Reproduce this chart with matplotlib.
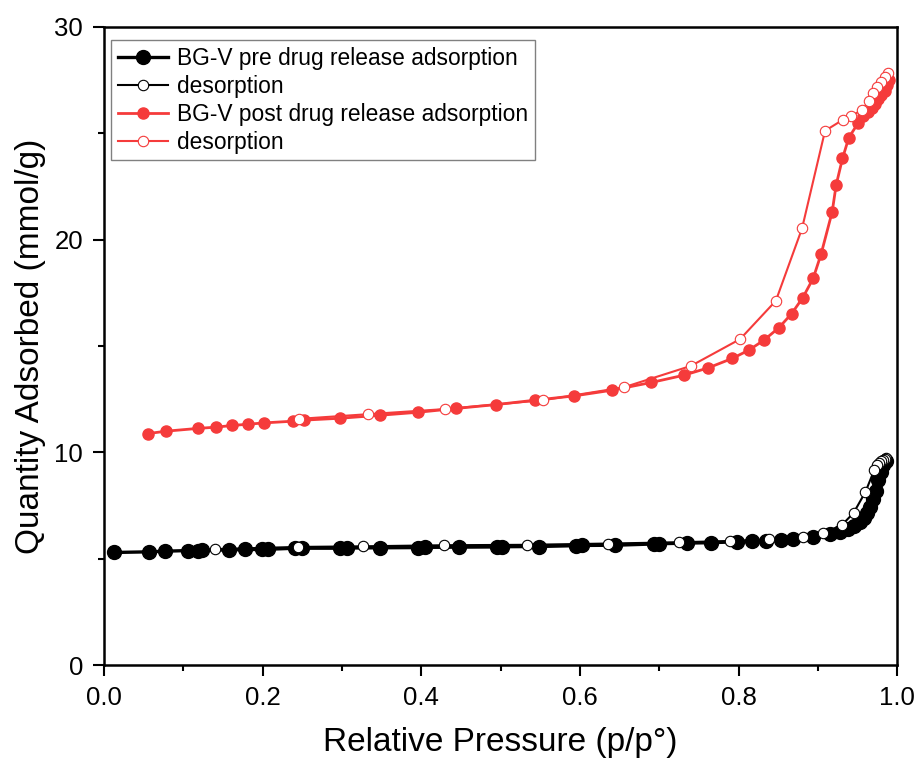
import matplotlib
matplotlib.use("Agg")
import matplotlib.pyplot as plt
from matplotlib.ticker import MultipleLocator

plt.rcParams['font.family'] = ['Liberation Sans', 'DejaVu Sans']

# BG-V pre drug release, adsorption branch
pre_ads_x = [0.013, 0.057, 0.077, 0.106, 0.119, 0.124, 0.158, 0.178, 0.199, 0.207,
             0.241, 0.250, 0.298, 0.306, 0.348, 0.396, 0.405, 0.447, 0.495, 0.502,
             0.548, 0.595, 0.602, 0.644, 0.694, 0.700, 0.735, 0.765, 0.798, 0.817,
             0.835, 0.854, 0.869, 0.894, 0.915, 0.928, 0.938, 0.946, 0.953, 0.958,
             0.962, 0.966, 0.970, 0.973, 0.976, 0.979, 0.982, 0.986]
pre_ads_y = [5.30, 5.33, 5.36, 5.39, 5.39, 5.40, 5.42, 5.44, 5.44, 5.45,
             5.50, 5.50, 5.50, 5.51, 5.52, 5.53, 5.54, 5.55, 5.56, 5.57,
             5.58, 5.62, 5.63, 5.64, 5.70, 5.71, 5.74, 5.76, 5.80, 5.83,
             5.86, 5.90, 5.94, 6.03, 6.15, 6.28, 6.40, 6.55, 6.72, 6.92,
             7.15, 7.45, 7.80, 8.20, 8.70, 9.10, 9.40, 9.62]

# BG-V pre drug release, desorption branch
pre_des_x = [0.986, 0.984, 0.982, 0.980, 0.977, 0.974, 0.971, 0.960, 0.945, 0.930,
             0.907, 0.881, 0.838, 0.789, 0.725, 0.636, 0.533, 0.429, 0.327, 0.245,
             0.140]
pre_des_y = [9.74, 9.70, 9.65, 9.60, 9.52, 9.40, 9.17, 8.15, 7.16, 6.58,
             6.22, 6.03, 5.91, 5.84, 5.78, 5.72, 5.66, 5.64, 5.59, 5.56,
             5.46]

# BG-V post drug release, adsorption branch
post_ads_x = [0.056, 0.078, 0.118, 0.141, 0.162, 0.182, 0.202, 0.238, 0.252, 0.298,
              0.348, 0.396, 0.444, 0.494, 0.544, 0.593, 0.641, 0.690, 0.731, 0.762,
              0.792, 0.813, 0.832, 0.851, 0.867, 0.881, 0.894, 0.904, 0.918, 0.923,
              0.931, 0.939, 0.951, 0.957, 0.963, 0.968, 0.972, 0.976, 0.980, 0.984,
              0.987, 0.990]
post_ads_y = [10.89, 11.00, 11.13, 11.19, 11.27, 11.33, 11.39, 11.47, 11.52, 11.61,
              11.75, 11.89, 12.07, 12.25, 12.46, 12.66, 12.93, 13.29, 13.63, 13.98,
              14.42, 14.81, 15.28, 15.87, 16.53, 17.28, 18.18, 19.32, 21.31, 22.57,
              23.82, 24.80, 25.50, 25.80, 26.00, 26.20, 26.40, 26.60, 26.80, 27.00,
              27.25, 27.50]

# BG-V post drug release, desorption branch
post_des_x = [0.989, 0.984, 0.979, 0.974, 0.970, 0.965, 0.955, 0.942, 0.932, 0.909,
              0.880, 0.847, 0.802, 0.740, 0.655, 0.554, 0.430, 0.333, 0.246]
post_des_y = [27.85, 27.66, 27.43, 27.16, 26.88, 26.52, 26.09, 25.81, 25.65, 25.12,
              20.53, 17.13, 15.33, 14.07, 13.06, 12.46, 12.04, 11.80, 11.58]

red = '#F53B3B'

fig = plt.figure(figsize=(9.16, 7.62), dpi=100)
ax = fig.add_axes([0.1135, 0.127, 0.866, 0.8376])

ax.plot(pre_ads_x, pre_ads_y, '-o', color='black', lw=2.4, ms=10,
        mfc='black', mec='black', label='BG-V pre drug release adsorption', zorder=3)
ax.plot(pre_des_x, pre_des_y, '-o', color='black', lw=1.5, ms=7.5,
        mfc='white', mec='black', mew=0.8, label='desorption', zorder=4)
ax.plot(post_ads_x, post_ads_y, '-o', color=red, lw=2.0, ms=8,
        mfc=red, mec=red, label='BG-V post drug release adsorption', zorder=3)
ax.plot(post_des_x, post_des_y, '-o', color=red, lw=1.5, ms=7.5,
        mfc='white', mec=red, mew=0.8, label='desorption', zorder=4)

ax.set_xlim(0, 1.0)
ax.set_ylim(0, 30)
ax.xaxis.set_major_locator(MultipleLocator(0.2))
ax.xaxis.set_minor_locator(MultipleLocator(0.1))
ax.yaxis.set_major_locator(MultipleLocator(10))
ax.yaxis.set_minor_locator(MultipleLocator(5))
ax.tick_params(which='both', direction='out', width=1.5, labelsize=18.5,
               top=False, right=False, pad=7)
ax.tick_params(which='major', length=8)
ax.tick_params(which='minor', length=4)
for s in ax.spines.values():
    s.set_linewidth(1.8)

ax.set_xlabel('Relative Pressure (p/p°)', fontsize=24, labelpad=12)
ax.set_ylabel('Quantity Adsorbed (mmol/g)', fontsize=24, labelpad=6)

leg = ax.legend(loc='upper left', bbox_to_anchor=(0.009, 0.98), borderaxespad=0,
                fontsize=16.4, fancybox=False, edgecolor='#808080', framealpha=1,
                handlelength=2.2, handletextpad=0.4, labelspacing=0.22, borderpad=0.3)
leg.get_frame().set_linewidth(1.0)

fig.savefig('out.png', dpi=100)
